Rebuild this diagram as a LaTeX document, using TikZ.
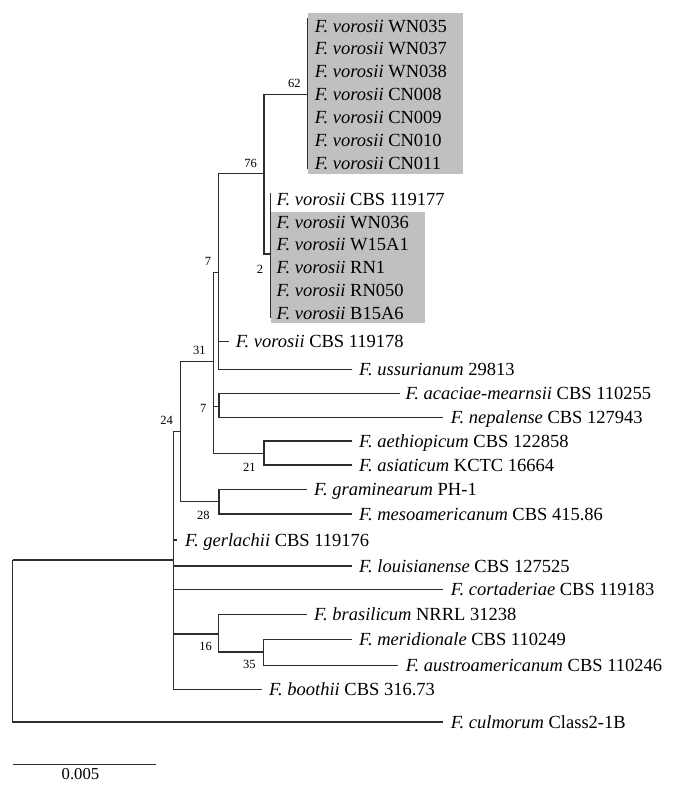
\documentclass[tikz,border=0pt]{standalone}
\usepackage{fontspec}
\setmainfont{Liberation Serif}
\definecolor{boxgray}{RGB}{192,192,192}
\definecolor{treeline}{RGB}{45,45,45}
\begin{document}
\begin{tikzpicture}[x=1pt,y=-1pt,
  br/.style={draw=treeline,line width=1.1pt},
  leaf/.style={anchor=west,inner xsep=7.5pt,inner ysep=0pt,outer sep=0pt,text height=16.5pt,text depth=4.4pt,font=\fontsize{18.5}{22}\selectfont},
  bs/.style={inner sep=0pt,outer sep=0pt,font=\fontsize{12.5}{14}\selectfont},
  sbl/.style={inner sep=0pt,font=\fontsize{16.7}{19}\selectfont},
  clade/.style={fill=boxgray,draw=none}]
\useasboundingbox (0,0) rectangle (681,793);
% highlight boxes
\fill[clade] (308.3,13.3) rectangle (462.7,174);
\fill[clade] (270.7,212.3) rectangle (425,323.3);
% internal nodes
\coordinate (root) at (12.7,560);
\coordinate (nA) at (173.7,560);
\coordinate (n24) at (180.5,431.7);
\coordinate (n31) at (213.3,361.7);
\coordinate (n7a) at (218.7,272.3);
\coordinate (n76) at (264,173.7);
\coordinate (n62) at (307.3,94.3);
\coordinate (n2) at (270.7,254);
\coordinate (n7b) at (219,406.7);
\coordinate (n21) at (264,453.3);
\coordinate (n28) at (219,501.7);
\coordinate (n16) at (218.7,634);
\coordinate (n35) at (263.3,652);
\coordinate (c62top) at (307.3,18);
\coordinate (c62bot) at (307.3,169.3);
\coordinate (c2top) at (270.7,193.3);
\coordinate (c2bot) at (270.7,318.3);
% leaves
\node[leaf] (a1) at (307.3,26) {\textit{F. vorosii} WN035};
\node[leaf] (a2) at (307.3,48.9) {\textit{F. vorosii} WN037};
\node[leaf] (a3) at (307.3,71.8) {\textit{F. vorosii} WN038};
\node[leaf] (a4) at (307.3,94.7) {\textit{F. vorosii} CN008};
\node[leaf] (a5) at (307.3,117.6) {\textit{F. vorosii} CN009};
\node[leaf] (a6) at (307.3,140.5) {\textit{F. vorosii} CN010};
\node[leaf] (a7) at (307.3,163.4) {\textit{F. vorosii} CN011};
\node[leaf,inner xsep=6pt] (b1) at (270.7,199.3) {\textit{F. vorosii} CBS 119177};
\node[leaf,inner xsep=6pt] (b2) at (270.7,222.1) {\textit{F. vorosii} WN036};
\node[leaf,inner xsep=6pt] (b3) at (270.7,244.9) {\textit{F. vorosii} W15A1};
\node[leaf,inner xsep=6pt] (b4) at (270.7,267.7) {\textit{F. vorosii} RN1};
\node[leaf,inner xsep=6pt] (b5) at (270.7,290.5) {\textit{F. vorosii} RN050};
\node[leaf,inner xsep=6pt] (b6) at (270.7,313.3) {\textit{F. vorosii} B15A6};
\node[leaf,inner xsep=6.5pt] (cbs178) at (229.3,341.7) {\textit{F. vorosii} CBS 119178};
\node[leaf] (ussur) at (351.7,369.3) {\textit{F. ussurianum} 29813};
\node[leaf,inner xsep=5.5pt] (acac) at (400,393.5) {\textit{F. acaciae-mearnsii} CBS 110255};
\node[leaf] (nepal) at (443.3,417.3) {\textit{F. nepalense} CBS 127943};
\node[leaf] (aeth) at (351.7,441) {\textit{F. aethiopicum} CBS 122858};
\node[leaf] (asia) at (351.7,465) {\textit{F. asiaticum} KCTC 16664};
\node[leaf] (gram) at (306.7,489.5) {\textit{F. graminearum} PH-1};
\node[leaf] (meso) at (351.7,514) {\textit{F. mesoamericanum} CBS 415.86};
\node[leaf,inner xsep=8.5pt] (gerl) at (176.7,540) {\textit{F. gerlachii} CBS 119176};
\node[leaf] (louis) at (351.7,566) {\textit{F. louisianense} CBS 127525};
\node[leaf] (cort) at (443.3,589.3) {\textit{F. cortaderiae} CBS 119183};
\node[leaf] (bras) at (306.7,614.7) {\textit{F. brasilicum} NRRL 31238};
\node[leaf] (merid) at (351.7,639.3) {\textit{F. meridionale} CBS 110249};
\node[leaf] (austro) at (398.3,665.3) {\textit{F. austroamericanum} CBS 110246};
\node[leaf] (booth) at (261.7,689.7) {\textit{F. boothii} CBS 316.73};
\node[leaf] (culm) at (443.3,722) {\textit{F. culmorum} Class2-1B};
% branches
\draw[br] (root) |- (nA);
\draw[br] (root) |- (culm.west);
\draw[br] (nA) |- (n24);
\draw[br] (nA) |- (gerl.west);
\draw[br] (nA) |- (louis.west);
\draw[br] (nA) |- (cort.west);
\draw[br] (nA) |- (n16);
\draw[br] (nA) |- (booth.west);
\draw[br] (n24) |- (n31);
\draw[br] (n24) |- (n28);
\draw[br] (n31) |- (n7a);
\draw[br] (n31) |- (n7b);
\draw[br] (n31) |- (n21);
\draw[br] (n7a) |- (n76);
\draw[br] (n7a) |- (cbs178.west);
\draw[br] (n7a) |- (ussur.west);
\draw[br] (n76) |- (n62);
\draw[br] (n76) |- (n2);
\draw[br] (c62top) -- (c62bot);
\draw[br] (c2top) -- (c2bot);
\draw[br] (n7b) |- (acac.west);
\draw[br] (n7b) |- (nepal.west);
\draw[br] (n21) |- (aeth.west);
\draw[br] (n21) |- (asia.west);
\draw[br] (n28) |- (gram.west);
\draw[br] (n28) |- (meso.west);
\draw[br] (n16) |- (bras.west);
\draw[br] (n16) |- (n35);
\draw[br] (n35) |- (merid.west);
\draw[br] (n35) |- (austro.west);
% bootstrap values
\node[bs] (l62) at (294.3,83.3) {62};
\node[bs] (l76) at (250.7,163) {76};
\node[bs] (l7a) at (208,261) {7};
\node[bs] (l2) at (260,269) {2};
\node[bs] (l31) at (199.3,350.7) {31};
\node[bs] (l24) at (166.7,420.7) {24};
\node[bs] (l7b) at (203.3,408.3) {7};
\node[bs] (l21) at (249.3,467) {21};
\node[bs] (l28) at (203.3,515) {28};
\node[bs] (l16) at (205.7,646) {16};
\node[bs] (l35) at (249.3,664) {35};
% scale bar
\coordinate (sb1) at (13.3,764.3);
\coordinate (sb2) at (156,764.3);
\draw[br] (sb1) -- (sb2);
\node[sbl] (sbt) at (80.5,774.3) {0.005};
\end{tikzpicture}
\end{document}
